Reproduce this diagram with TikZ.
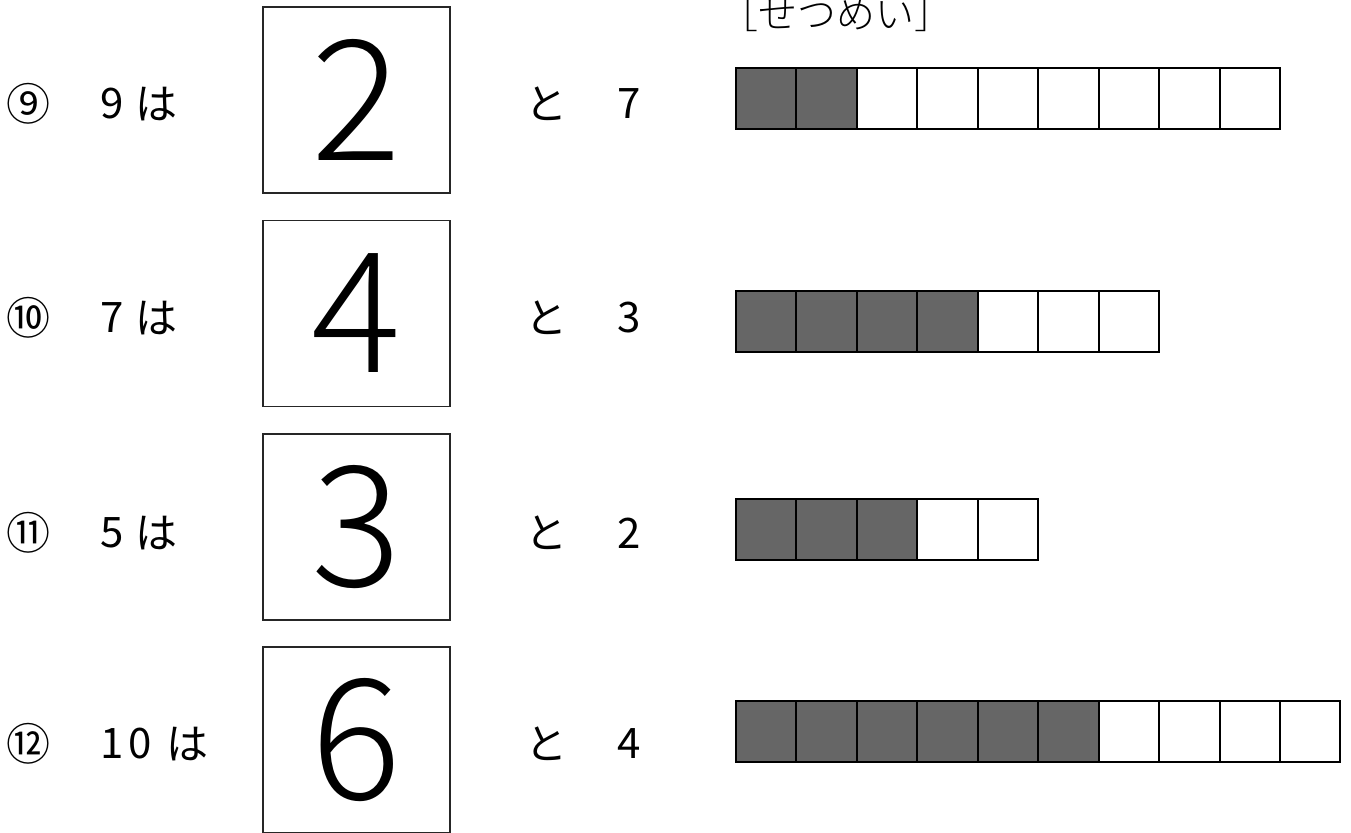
\documentclass[tikz,border=0pt]{standalone}
\usepackage{fontspec}
\setmainfont{Noto Sans CJK JP}
\newfontfamily\jpl{Noto Sans CJK JP Light}
\definecolor{barfill}{HTML}{666666}
\begin{document}
\begin{tikzpicture}[x=0.5pt,y=-0.5pt,
  ansbox/.style={draw=black!85, line width=0.65pt, minimum width=93.5pt, minimum height=93pt, inner sep=0pt,
     font=\jpl\fontsize{84}{84}\selectfont},
  cellbox/.style={draw=black, line width=1pt, minimum width=30.22pt, minimum height=30.5pt, inner sep=0pt, anchor=north west},
  qtxt/.style={font=\fontsize{21}{21}\selectfont, inner sep=0pt},
  circnum/.style={font=\fontsize{22}{22}\selectfont, inner sep=0pt}]
\useasboundingbox (0,0) rectangle (1351,832);
\clip (0,0) rectangle (1351,832);

% heading
\node[font=\jpl\fontsize{19.5}{19.5}\selectfont, anchor=west, inner sep=0pt] (head) at (719,14) {［せつめい］};

% rows: circled number, question number, は, answer box, と, number
\foreach \r/\c/\n/\a/\b/\ty/\by in {1/⑨/9/2/7/104/100, 2/⑩/7/4/3/318/313.5, 3/⑪/5/3/2/533/527}{
  \node[circnum] (circ\r) at (28,\ty) {\c};
  \node[qtxt, anchor=west] (num\r) at (100,\ty) {\n};
  \node[qtxt] (ha\r) at (156,\ty) {は};
  \node[ansbox] (box\r) at (356.5,\by) {\a};
  \node[qtxt] (to\r) at (546,\ty) {と};
  \node[qtxt] (rest\r) at (629,\ty) {\b};
}
\node[circnum] (circ4) at (28,744) {⑫};
\node[qtxt, anchor=west] (num4) at (100,744) {1\hspace{2.5pt}0};
\node[qtxt] (ha4) at (187,744) {は};
\node[ansbox] (box4) at (356.5,740) {6};
\node[qtxt] (to4) at (546,744) {と};
\node[qtxt] (rest4) at (629,744) {4};

% bars
\foreach \r/\yt/\n/\k in {1/67/9/2, 2/290/7/4, 3/498/5/3, 4/700/10/6}{
  \foreach \i in {1,...,\n}{
    \pgfmathsetmacro\xx{735+(\i-1)*60.44}
    \ifnum\i>\k\relax
      \node[cellbox, fill=white] (cell\r-\i) at (\xx,\yt) {};
    \else
      \node[cellbox, fill=barfill] (cell\r-\i) at (\xx,\yt) {};
    \fi
  }
}
\end{tikzpicture}
\end{document}
